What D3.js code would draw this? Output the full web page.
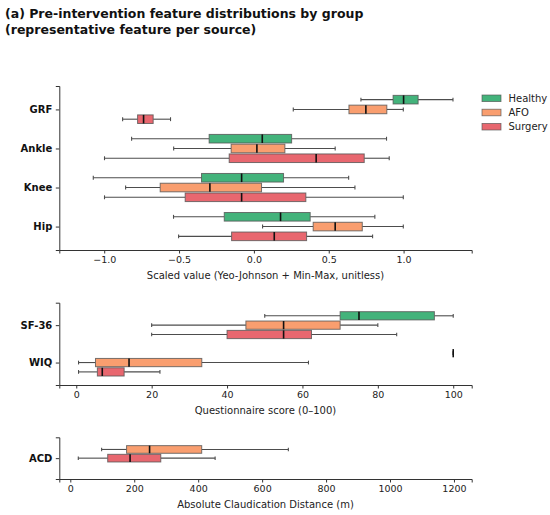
<!DOCTYPE html>
<html lang="en">
<head>
<meta charset="UTF-8">
<title>Pre-intervention feature distributions</title>
<style>
  body { margin: 0; background: #fff; }
  svg { font-family: "DejaVu Sans", sans-serif; }
</style>
</head>
<body>
<div id="chart"></div>
<script src="https://d3js.org/d3.v7.min.js"></script>
<script>
// groups + colours
var groups = ["Healthy", "AFO", "Surgery"];
var groupColors = ["#43b37b", "#f99e6f", "#e8676f"];

// panel 1: scaled features, stats = [whiskerLo, q1, median, q3, whiskerHi]
var featCats = ["GRF", "Ankle", "Knee", "Hip"];
var featHealthy = [[0.715, 0.93, 1.0, 1.097, 1.33], [-0.817, -0.299, 0.056, 0.252, 0.886], [-1.073, -0.35, -0.082, 0.198, 0.633], [-0.537, -0.198, 0.178, 0.376, 0.808]];
var featAFO = [[0.263, 0.635, 0.748, 0.888, 0.998], [-0.536, -0.152, 0.02, 0.207, 0.543], [-0.857, -0.626, -0.294, 0.051, 0.675], [0.058, 0.396, 0.543, 0.724, 0.998]];
var featSurgery = [[-0.877, -0.777, -0.737, -0.673, -0.557], [-0.998, -0.165, 0.416, 0.737, 0.904], [-0.998, -0.459, -0.082, 0.347, 0.998], [-0.503, -0.149, 0.136, 0.352, 0.793]];
var featTicks = [-1.0, -0.5, 0.0, 0.5, 1.0];

// panel 2: questionnaires
var qCats = ["SF-36", "WIQ"];
var qHealthy = [[50, 70, 75, 95, 100], [100, 100, 100, 100, 100]];
var qAFO = [[20, 45, 55, 70, 80], [0.6, 5.1, 14, 33.3, 61.6]];
var qSurgery = [[20, 40, 55, 62.4, 85], [0.6, 5.6, 6.9, 12.7, 22.2]];
var qTicks = [0, 20, 40, 60, 80, 100];

// panel 3: absolute claudication distance
var acdCats = ["ACD"];
var acdAFO = [[98, 176, 248, 411, 682]];
var acdSurgery = [[25, 117, 187, 283, 453]];
var acdTicks = [0, 200, 400, 600, 800, 1000, 1200];

var W = 550, H = 515;
var svg = d3.select("#chart").append("svg").attr("width", W).attr("height", H);

svg.append("text").attr("x", 5).attr("y", 18)
    .attr("font-size", 12.5).attr("font-weight", "bold").attr("fill", "#111")
    .text("(a) Pre-intervention feature distributions by group");
svg.append("text").attr("x", 5).attr("y", 33.5)
    .attr("font-size", 12.5).attr("font-weight", "bold").attr("fill", "#111")
    .text("(representative feature per source)");

var boxH = 0.22, capH = 0.1;

function panel(opt) {
    var x = d3.scaleLinear().domain(opt.xDomain).range([59.3, 471.7]);
    var y = d3.scaleLinear().domain([-0.6, opt.cats.length - 1 + 0.6]).range([opt.top, opt.bottom]);
    var g = svg.append("g");

    opt.series.forEach(function (s) {
        s.stats.forEach(function (d, i) {
            var yc = y(i + s.offset);
            var hh = y(boxH / 2) - y(0), ch = y(capH / 2) - y(0);
            var wc = "#4d4d4d";
            // whiskers
            g.append("line").attr("x1", x(d[0])).attr("x2", x(d[1])).attr("y1", yc).attr("y2", yc)
                .attr("stroke", wc).attr("stroke-width", 1.1);
            g.append("line").attr("x1", x(d[3])).attr("x2", x(d[4])).attr("y1", yc).attr("y2", yc)
                .attr("stroke", wc).attr("stroke-width", 1.1);
            [d[0], d[4]].forEach(function (v) {
                g.append("line").attr("x1", x(v)).attr("x2", x(v)).attr("y1", yc - ch).attr("y2", yc + ch)
                    .attr("stroke", wc).attr("stroke-width", 1.1);
            });
            // box
            g.append("rect").attr("x", x(d[1])).attr("y", yc - hh)
                .attr("width", Math.max(0, x(d[3]) - x(d[1]))).attr("height", 2 * hh)
                .attr("fill", s.color).attr("stroke", "#555").attr("stroke-opacity", 0.8).attr("stroke-width", 1);
            // median
            g.append("line").attr("x1", x(d[2])).attr("x2", x(d[2])).attr("y1", yc - hh).attr("y2", yc + hh)
                .attr("stroke", "#111").attr("stroke-width", 1.6);
        });
    });

    var xa = g.append("g").attr("transform", "translate(0," + opt.bottom + ")")
        .call(d3.axisBottom(x).tickValues(opt.ticks).tickSize(3.5).tickPadding(3)
            .tickFormat(opt.fmt || d3.format("d")));
    var ya = g.append("g").attr("transform", "translate(59.3,0)")
        .call(d3.axisLeft(y).tickValues(d3.range(opt.cats.length)).tickSize(3.5).tickPadding(3.5)
            .tickFormat(function (i) { return opt.cats[i]; }));
    [xa, ya].forEach(function (a) {
        a.select(".domain").attr("stroke", "#333").attr("stroke-width", 1);
        a.selectAll(".tick line").attr("stroke", "#333");
        a.selectAll(".tick text").attr("fill", "#222").attr("font-family", "DejaVu Sans");
    });
    xa.selectAll(".tick text").attr("font-size", 9.5);
    ya.selectAll(".tick text").attr("font-size", 10).attr("font-weight", "bold").attr("fill", "#111");

    g.append("text").attr("x", 265.5).attr("y", opt.bottom + 29)
        .attr("text-anchor", "middle").attr("font-size", 10).attr("fill", "#222")
        .text(opt.label);
}

panel({
    cats: featCats, xDomain: [-1.30, 1.455], top: 86, bottom: 250, ticks: featTicks,
    fmt: function (v) { return d3.format(".1f")(v).replace("-", "\u2212"); },
    label: "Scaled value (Yeo-Johnson + Min-Max, unitless)",
    series: [
        {stats: featHealthy, offset: -0.25, color: groupColors[0]},
        {stats: featAFO, offset: 0, color: groupColors[1]},
        {stats: featSurgery, offset: 0.25, color: groupColors[2]}
    ]
});

panel({
    cats: qCats, xDomain: [-4.5, 104.9], top: 302.7, bottom: 385, ticks: qTicks,
    label: "Questionnaire score (0\u2013100)",
    series: [
        {stats: qHealthy, offset: -0.25, color: groupColors[0]},
        {stats: qAFO, offset: 0, color: groupColors[1]},
        {stats: qSurgery, offset: 0.25, color: groupColors[2]}
    ]
});

panel({
    cats: acdCats, xDomain: [-34.4, 1255.5], top: 437.3, bottom: 479, ticks: acdTicks,
    label: "Absolute Claudication Distance (m)",
    series: [
        {stats: acdAFO, offset: -0.25, color: groupColors[1]},
        {stats: acdSurgery, offset: 0, color: groupColors[2]}
    ]
});

// legend
var leg = svg.append("g");
groups.forEach(function (name, i) {
    var yy = 98.3 + i * 14.2;
    leg.append("rect").attr("x", 482).attr("y", yy - 3.3).attr("width", 19).attr("height", 6.6)
        .attr("fill", groupColors[i]).attr("stroke", "#555").attr("stroke-opacity", 0.8).attr("stroke-width", 0.8);
    leg.append("text").attr("x", 508.5).attr("y", yy + 3.6).attr("font-size", 10).attr("fill", "#222")
        .text(name);
});
</script>
</body>
</html>
